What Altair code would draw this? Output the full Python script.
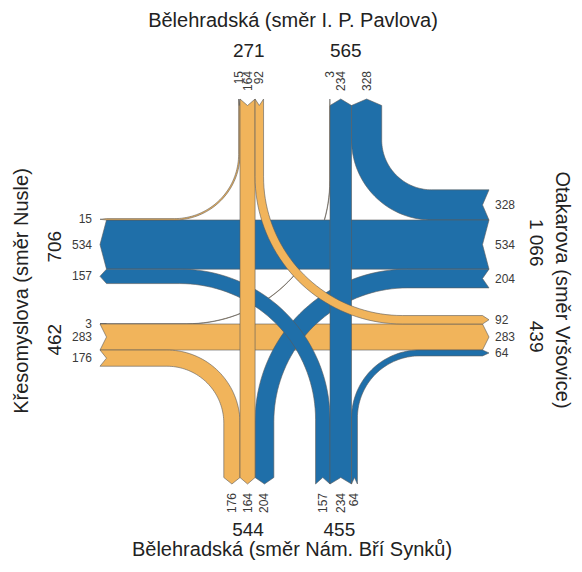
import math
import altair as alt
import pandas as pd

# ---------------- data ----------------
# arms: N = top, S = bottom, W = left, E = right
arm_names = {
    "N": "Bělehradská (směr I. P. Pavlova)",
    "S": "Bělehradská (směr Nám. Bří Synků)",
    "W": "Křesomyslova (směr Nusle)",
    "E": "Otakarova (směr Vršovice)",
}
flow_from = ["W", "W", "W", "E", "E", "E", "S", "S", "S", "N", "N", "N"]
flow_to = ["N", "E", "S", "N", "W", "S", "W", "N", "E", "W", "S", "E"]
flow_veh = [3, 283, 176, 328, 534, 204, 157, 234, 64, 15, 164, 92]

# ---------------- layout ----------------
ORANGE = "#F1B45B"
BLUE = "#1F6FA9"
K = 0.092                      # px per vehicle
END = {"N": 99.0, "S": 484.0, "W": 100.0, "E": 489.0}
INWARD = {"N": (0, 1), "S": (0, -1), "W": (1, 0), "E": (-1, 0)}
ANCHOR = {"SB": 240.0, "NB": 330.0, "WB": 220.0, "EB": 324.0}
R_LEFT = 143.0
R_RIGHT = 65.0
DEPTH = 6.5
IDX = {"N": 0, "E": 1, "S": 2, "W": 3}


def turn(o, d):
    t = (IDX[d] - IDX[o]) % 4
    return {2: "straight", 3: "right", 1: "left"}[t]


entry_order = {"N": ["right", "straight", "left"], "S": ["left", "straight", "right"],
               "W": ["left", "straight", "right"], "E": ["right", "straight", "left"]}
exit_order = {"N": ["left", "straight", "right"], "S": ["right", "straight", "left"],
              "W": ["right", "straight", "left"], "E": ["left", "straight", "right"]}
entry_anchor = {"N": "SB", "S": "NB", "W": "EB", "E": "WB"}
exit_anchor = {"N": "NB", "S": "SB", "W": "WB", "E": "EB"}

flows = list(zip(flow_from, flow_to, flow_veh))


def group_centers(members, order, anchor):
    bytype = {t: i for i, t in members}
    seq = [bytype[t] for t in order if t in bytype]
    si = bytype["straight"]
    before = 0.0
    for i in seq:
        if i == si:
            break
        before += flows[i][2] * K
    c = anchor - before
    out = {}
    for i in seq:
        w = flows[i][2] * K
        out[i] = c + w / 2
        c += w
    return out


start_c, end_c = {}, {}
for arm in "NESW":
    ent = [(i, turn(o, d)) for i, (o, d, v) in enumerate(flows) if o == arm]
    ext = [(i, turn(o, d)) for i, (o, d, v) in enumerate(flows) if d == arm]
    start_c.update(group_centers(ent, entry_order[arm], ANCHOR[entry_anchor[arm]]))
    end_c.update(group_centers(ext, exit_order[arm], ANCHOR[exit_anchor[arm]]))


def arm_point(arm, c):
    return (c, END[arm]) if arm in "NS" else (END[arm], c)


def polygon(i):
    o, d, v = flows[i]
    a, b = start_c[i], end_c[i]
    w = v * K
    h = w / 2
    uo = INWARD[o]
    ud = (-INWARD[d][0], -INWARD[d][1])
    S = arm_point(o, a)
    T = arm_point(d, b)
    pts = [(S, uo)]
    tt = turn(o, d)
    if tt != "straight":
        r = R_LEFT if tt == "left" else R_RIGHT
        C = (a, b) if o in "NS" else (b, a)
        A1 = (C[0] - r * uo[0], C[1] - r * uo[1])
        Q = (A1[0] + r * ud[0], A1[1] + r * ud[1])
        n = 40
        for j in range(n + 1):
            th = j / n * math.pi / 2
            P = (Q[0] - r * ud[0] * math.cos(th) + r * uo[0] * math.sin(th),
                 Q[1] - r * ud[1] * math.cos(th) + r * uo[1] * math.sin(th))
            tan = (ud[0] * math.sin(th) + uo[0] * math.cos(th),
                   ud[1] * math.sin(th) + uo[1] * math.cos(th))
            pts.append((P, tan))
    Tsh = (T[0] - DEPTH * ud[0], T[1] - DEPTH * ud[1])
    pts.append((Tsh, ud))
    left = [(P[0] - h * t[1], P[1] + h * t[0]) for P, t in pts]
    right = [(P[0] + h * t[1], P[1] - h * t[0]) for P, t in pts]
    notch = (S[0] + DEPTH * uo[0], S[1] + DEPTH * uo[1])
    poly = left + [T] + right[::-1] + [notch, left[0]]
    return pd.DataFrame({"x": [p[0] for p in poly], "y": [p[1] for p in poly],
                         "i": list(range(len(poly)))})


xs = alt.Scale(domain=[8, 574])
ys = alt.Scale(domain=[8, 564], reverse=True)
X = lambda: alt.X("x:Q", scale=xs, axis=None)
Y = lambda: alt.Y("y:Q", scale=ys, axis=None)

layers = []
for i, (o, d, v) in enumerate(flows):
    col = ORANGE if o in "NW" else BLUE
    layers.append(
        alt.Chart(polygon(i)).mark_line(fill=col, stroke="#5a5a5a", strokeWidth=0.6,
                                        strokeJoin="round")
        .encode(x=X(), y=Y(), order=alt.Order("i:Q"))
    )

# ---------------- labels ----------------
TOP_LAB_Y, BOT_LAB_Y, LEFT_LAB_X, RIGHT_LAB_X = 71.0, 493.0, 92.0, 495.0
small = {"N": [], "S": [], "W": [], "E": []}
totals = []
for arm in "NESW":
    for cdict, key in ((start_c, 0), (end_c, 1)):
        idxs = [i for i, f in enumerate(flows) if f[key] == arm]
        cs = [cdict[i] for i in idxs]
        tot = sum(flows[i][2] for i in idxs)
        for i in idxs:
            small[arm].append({"c": cdict[i], "t": str(flows[i][2])})
        totals.append({"arm": arm, "c": sum(cs) / len(cs), "t": f"{tot:,}".replace(",", " ")})


def txt(rows, **kw):
    return alt.Chart(pd.DataFrame(rows)).mark_text(font="Liberation Sans", **kw).encode(
        x=X(), y=Y(), text="t:N")


SMALL = dict(fontSize=12, color="#3a3a3a")
BIG = dict(fontSize=19, color="#222222")
TITLE = dict(fontSize=20, color="#222222")

layers.append(txt([{"x": r["c"], "y": TOP_LAB_Y, "t": r["t"]} for r in small["N"]],
                  angle=270, align="right", baseline="middle", **SMALL))
layers.append(txt([{"x": r["c"], "y": BOT_LAB_Y, "t": r["t"]} for r in small["S"]],
                  angle=270, align="right", baseline="middle", **SMALL))
layers.append(txt([{"x": LEFT_LAB_X, "y": r["c"], "t": r["t"]} for r in small["W"]],
                  align="right", baseline="middle", **SMALL))
layers.append(txt([{"x": RIGHT_LAB_X, "y": r["c"], "t": r["t"]} for r in small["E"]],
                  align="left", baseline="middle", **SMALL))

tN = [{"x": t["c"], "y": 51.0, "t": t["t"]} for t in totals if t["arm"] == "N"]
tS = [{"x": t["c"], "y": 530.0, "t": t["t"]} for t in totals if t["arm"] == "S"]
tW = [{"x": 55.0, "y": t["c"], "t": t["t"]} for t in totals if t["arm"] == "W"]
tE = [{"x": 536.0, "y": t["c"], "t": t["t"]} for t in totals if t["arm"] == "E"]
layers.append(txt(tN, align="center", baseline="middle", **BIG))
layers.append(txt(tS, align="center", baseline="middle", **BIG))
layers.append(txt(tW, angle=270, align="center", baseline="middle", **BIG))
layers.append(txt(tE, angle=90, align="center", baseline="middle", **BIG))

layers.append(txt([{"x": 293.0, "y": 21.0, "t": arm_names["N"]}],
                  align="center", baseline="middle", **TITLE))
layers.append(txt([{"x": 292.0, "y": 550.0, "t": arm_names["S"]}],
                  align="center", baseline="middle", **TITLE))
layers.append(txt([{"x": 22.0, "y": 291.0, "t": arm_names["W"]}],
                  angle=270, align="center", baseline="middle", **TITLE))
layers.append(txt([{"x": 562.0, "y": 290.0, "t": arm_names["E"]}],
                  angle=90, align="center", baseline="middle", **TITLE))

chart = alt.layer(*layers).properties(
    width=566, height=556, padding=0, autosize=alt.AutoSizeParams(type="none")
).configure_view(stroke=None)

chart.save("out.html", embed_options={"renderer": "svg", "actions": False})
